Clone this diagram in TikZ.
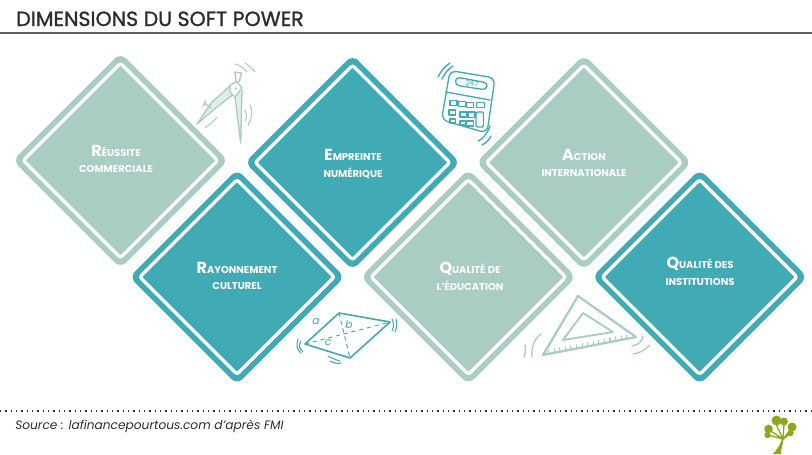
\documentclass[tikz,border=0pt]{standalone}
\usepackage{fontspec}
\setmainfont{Poppins}
\newfontfamily\titlefont[RawFeature={embolden=1.2}]{Poppins}
\usetikzlibrary{shapes.geometric, positioning, calc}
\definecolor{softlight}{RGB}{169,205,195}
\definecolor{softdark}{RGB}{64,171,181}
\definecolor{softtext}{RGB}{45,45,48}
\definecolor{softtree}{RGB}{143,168,27}
\newcommand{\capinit}[2]{{\fontsize{12}{12}\selectfont #1}#2}

\begin{document}
\begin{tikzpicture}[
  x=0.75pt, y=-0.75pt,
  node distance=12pt,
  frame/.style={diamond, aspect=1, fill=#1, rounded corners=6pt, inner sep=0pt, outer sep=0pt,
                minimum size=161.5pt},
  core/.style={diamond, aspect=1, fill=#1, draw=white, line width=2.5pt, rounded corners=2pt,
               inner sep=0pt, outer sep=0pt, minimum size=146pt},
  lbl/.style={align=center, text=white, inner sep=0pt, font=\fontsize{7.5}{12.5}\selectfont\bfseries},
  sketchl/.style={draw=softlight, line width=1pt, line cap=round, line join=round},
  sketchd/.style={draw=softdark, line width=1pt, line cap=round, line join=round}
]
\useasboundingbox (0,0) rectangle (812,454);

\node[anchor=base west, inner sep=0pt, text=softtext, font=\fontsize{15.4}{18}\titlefont] (title)
  at (16,26) {DIMENSIONS DU SOFT POWER};
\draw[softtext!75, line width=1.1pt] (0,33) -- (812,33);

\node[frame=softlight] (reussiteframe) at (120.5,160.5) {};
\node[core=softlight] (reussite) at (reussiteframe.center) {};
\node[frame=softdark] (empreinteframe) at (352.5,162.5) {};
\node[core=softdark] (empreinte) at (empreinteframe.center) {};
\node[frame=softlight, right=of empreinteframe] (actionframe) {};
\node[core=softlight] (action) at (actionframe.center) {};

\node[frame=softdark] (rayonframe) at (237,277) {};
\node[core=softdark] (rayon) at (rayonframe.center) {};
\node[frame=softlight, right=of rayonframe] (educframe) {};
\node[core=softlight] (educ) at (educframe.center) {};
\node[frame=softdark, right=of educframe] (institframe) {};
\node[core=softdark] (instit) at (institframe.center) {};

\node[lbl] (reussitelbl)  at (116,159) {\capinit{R}{ÉUSSITE}\\COMMERCIALE};
\node[lbl] (empreintelbl) at (353,164) {\capinit{E}{MPREINTE}\\NUMÉRIQUE};
\node[lbl] (actionlbl)    at (584,163) {\capinit{A}{CTION}\\INTERNATIONALE};
\node[lbl] (rayonlbl)     at (237,276) {\capinit{R}{AYONNEMENT}\\CULTUREL};
\node[lbl] (educlbl)      at (470,276) {\capinit{Q}{UALITÉ DE}\\L’ÉDUCATION};
\node[lbl] (institlbl)    at (700,271) {\capinit{Q}{UALITÉ DES}\\INSTITUTIONS};

% compas
\draw[sketchl, fill=softlight!35] (230,86) -- (212,102) -- (197,124) -- (217,107) -- (235,93);
\draw[sketchl] (204,103) -- (211,108) (206,101) -- (203,106);
\draw[sketchl, fill=softlight!35] (235,97) -- (240.7,143) -- (242,90);
\draw[sketchl] (235,72) -- (241.7,73) -- (239,82) -- (236,82) -- cycle;
\draw[sketchl, fill=white] (230,85) -- (237,82) -- (242,88) -- (235,97) -- (230,92) -- cycle;
\fill[softlight] (236,88.5) circle (1.3);
\draw[sketchl, line width=0.8pt] (235,64) .. controls (240,65) and (244,68) .. (247,72)
               (245,63) .. controls (248,65) and (252,68) .. (255,72)
               (245,110) .. controls (247,114) and (247,118) .. (245,121)
               (250,105) .. controls (253,112) and (252,119) .. (248,125)
               (205,127.5) .. controls (210,125) and (214,121) .. (217,117);

% calculatrice
\draw[sketchd, rounded corners=5pt] (450,70.5) -- (495,78) -- (487,133) -- (441.5,120) -- cycle;
\draw[sketchd] (446,92) -- (490,100);
\draw[sketchd, rounded corners=3pt] (456,77) -- (488,83) -- (486,90) -- (455,85) -- cycle;
\node[text=softdark, rotate=-8, inner sep=0pt, font=\fontsize{5.5}{6}\selectfont] (screen) at (472,83.5) {247};
\foreach \kx/\ky/\kw/\kh in {450/100.7/7/5, 458.5/101.7/7/5, 466.7/102.3/7/5, 476.7/102.3/8/5,
                             449/110/6.5/5, 460/112/6.5/5, 468/112/7/5.5,
                             450/119/5.5/4, 460/121/5.5/4, 466.7/121/6.5/5}
  \draw[sketchd, line width=0.8pt] (\kx,\ky) rectangle ++(\kw,\kh);
\draw[sketchd, rounded corners=1pt] (476,112) rectangle (483.5,127);
\draw[sketchd] (438,77) .. controls (441,71) and (445,66) .. (450,63)
               (442,79) .. controls (445,73) and (448,69) .. (453,66)
               (478,141) .. controls (483,139) and (487,134) .. (490,126)
               (482,145) .. controls (486,143) and (489,140) .. (491,136);

% losange
\draw[sketchd, line width=1.2pt] (339,313) -- (390,322) -- (350,358) -- (305,344) -- cycle;
\draw[sketchd, dashed, line width=0.7pt] (305,344) -- (390,322) (339,313) -- (350,358);
\node[text=softdark, inner sep=0pt, font=\fontsize{8}{8}\selectfont\itshape] (sidea) at (316,322) {a};
\node[text=softdark, inner sep=0pt, font=\fontsize{8}{8}\selectfont\itshape] (sideb) at (349,325) {b};
\node[text=softdark, inner sep=0pt, font=\fontsize{8}{8}\selectfont\itshape] (sidec) at (328,343) {c};
\draw[sketchd, line width=0.8pt] (392,319) .. controls (394,323) and (394,327) .. (392,331)
               (396,319) .. controls (397,323) and (397,327) .. (395,332)
               (301,341) .. controls (298,345) and (299,348) .. (303,352)
               (298,339) .. controls (296,345) and (297,350) .. (301,353)
               (328,356) .. controls (332,358) and (336,360) .. (340,361)
               (330,361) .. controls (334,363) and (337,364) .. (341,363);

% equerre
\draw[sketchl, line width=1.7pt] (578,296) -- (636,337) -- (543,355) -- cycle;
\draw[sketchl, line width=1.4pt] (583,313) -- (613,332) -- (563,340) -- cycle;
\foreach \tk in {0.06,0.12,...,0.95}
  \draw[sketchl, line width=0.8pt] ($(543,355)!\tk!(636,337)$) -- ++(0,-4);
\draw[sketchl] (525,345) .. controls (526,351) and (525,354) .. (524,357)
               (541,334) .. controls (534,339) and (531,348) .. (532,357)
               (643,336) .. controls (642,342) and (638,345) .. (632,346)
               (650,345) .. controls (645,350) and (640,353) .. (633,354);

\draw[softtext, line width=1.2pt, dash pattern=on 1.1pt off 2.9pt] (0,411) -- (812,411);
\node[anchor=base west, inner sep=0pt, text=softtext, font=\fontsize{9.15}{12}\selectfont\itshape] (source)
  at (15,429) {Source : lafinancepourtous.com d’après FMI};

% arbre
\fill[softtree] (773,454) .. controls (777,449) and (781,445) .. (782,437) -- (784,437)
  .. controls (783,444) and (781,449) .. (781,454) -- cycle;
\fill[softtree] (776.5,420.5) circle (5) (784,421.5) circle (4) (792,427) circle (4.5)
  (790.5,433) circle (3.2) (768.5,429) circle (4.3) (767.5,435) circle (3.2);
\draw[softtree, line width=1pt] (783,439) -- (776,424) (783,439) -- (784,424) (783,439) -- (791,429)
  (783,439) -- (790,434) (783,439) -- (769,430) (783,439) -- (768,435);
\end{tikzpicture}
\end{document}
